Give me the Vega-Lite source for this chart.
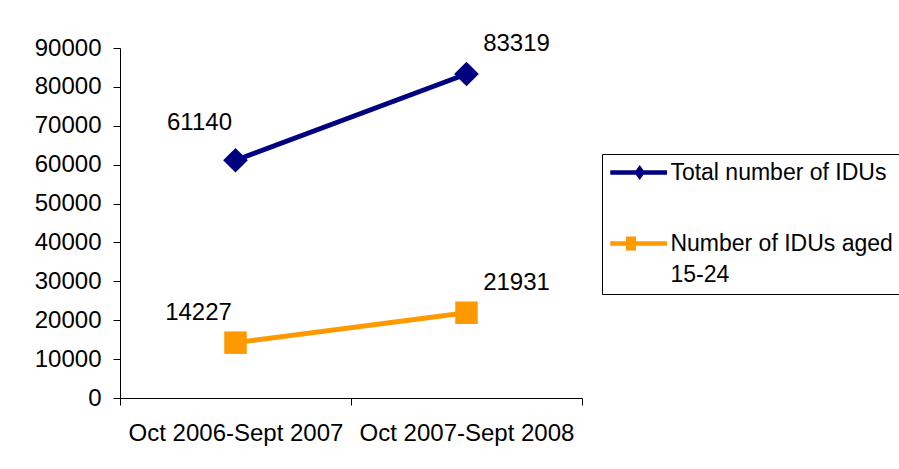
{
  "$schema": "https://vega.github.io/schema/vega-lite/v6.json",
  "width": 462,
  "height": 350,
  "autosize": {"type": "none"},
  "padding": {"left": 120, "top": 48, "right": 317, "bottom": 71},
  "background": "white",
  "config": {"view": {"stroke": null}, "font": "Liberation Sans"},
  "data": {"values": [
    {"period": "Oct 2006-Sept 2007", "series": "Total number of IDUs", "value": 61140},
    {"period": "Oct 2007-Sept 2008", "series": "Total number of IDUs", "value": 83319},
    {"period": "Oct 2006-Sept 2007", "series": "Number of IDUs aged 15-24", "value": 14227},
    {"period": "Oct 2007-Sept 2008", "series": "Number of IDUs aged 15-24", "value": 21931}
  ]},
  "encoding": {
    "x": {
      "field": "period", "type": "nominal", "sort": null,
      "scale": {"type": "band", "paddingInner": 0, "paddingOuter": 0},
      "axis": {"title": null, "labelAngle": 0, "tickBand": "extent", "domainColor": "black", "tickColor": "black", "tickSize": 7, "labelFontSize": 24, "labelPadding": 16, "labelColor": "black", "grid": false, "labelFont": "Liberation Sans", "labelLimit": 400, "labelOverlap": false}
    },
    "y": {
      "field": "value", "type": "quantitative",
      "scale": {"domain": [0, 90000], "nice": false},
      "axis": {"title": null, "values": [0, 10000, 20000, 30000, 40000, 50000, 60000, 70000, 80000, 90000], "format": "d", "grid": false, "tickSize": 7, "labelPadding": 12, "domainColor": "black", "tickColor": "black", "labelFontSize": 24, "labelColor": "black", "labelFont": "Liberation Sans"}
    }
  },
  "layer": [
    {
      "mark": {"type": "line", "strokeWidth": 5},
      "encoding": {
        "color": {
          "field": "series", "type": "nominal",
          "scale": {"domain": ["Total number of IDUs", "Number of IDUs aged 15-24"], "range": ["#000080", "#FF9900"]},
          "legend": {
            "title": null, "orient": "none", "legendX": 482, "legendY": 106,
            "padding": 7, "strokeColor": "black", "fillColor": "white",
            "symbolSize": 225, "symbolStrokeWidth": 0, "labelFontSize": 23, "labelColor": "black", "labelFont": "Liberation Sans",
            "labelLimit": 500, "labelOffset": 38.4, "rowPadding": 47,
            "labelExpr": "datum.label == 'Number of IDUs aged 15-24' ? ['Number of IDUs aged', '15-24'] : datum.label",
            "encode": {
              "symbols": {"update": {
                "shape": {"signal": "datum.value == 'Total number of IDUs' ? 'M-1.36,-0.3H6.2V0.3H-1.36Z M1.84,0L2.56,-1L3.28,0L2.56,1Z' : 'M-1.36,-0.3H6.2V0.3H-1.36Z M0.733,-0.933H2.067V0.933H0.733Z'"},
                "fill": {"signal": "datum.value == 'Total number of IDUs' ? '#000080' : '#FF9900'"},
                "strokeWidth": {"value": 0},
                "opacity": {"value": 1}
              }},
              "labels": {"update": {
                "lineHeight": {"value": 31}
              }}
            }
          }
        }
      }
    },
    {
      "transform": [{"filter": "datum.series == 'Total number of IDUs'"}],
      "mark": {"type": "point", "filled": true, "opacity": 1, "shape": "diamond", "size": 610},
      "encoding": {"color": {"field": "series", "type": "nominal"}}
    },
    {
      "transform": [{"filter": "datum.series != 'Total number of IDUs'"}],
      "mark": {"type": "point", "filled": true, "opacity": 1, "shape": "square", "size": 506},
      "encoding": {"color": {"field": "series", "type": "nominal"}}
    },
    {
      "transform": [{"filter": "datum.period == 'Oct 2007-Sept 2008'"}],
      "mark": {"type": "text", "dx": 50, "dy": -30, "fontSize": 24, "color": "black", "font": "Liberation Sans"},
      "encoding": {"text": {"field": "value", "type": "quantitative", "format": "d"}}
    },
    {
      "transform": [{"filter": "datum.period == 'Oct 2006-Sept 2007' && datum.series == 'Total number of IDUs'"}],
      "mark": {"type": "text", "dx": -36, "dy": -37, "fontSize": 24, "color": "black", "font": "Liberation Sans"},
      "encoding": {"text": {"field": "value", "type": "quantitative", "format": "d"}}
    },
    {
      "transform": [{"filter": "datum.period == 'Oct 2006-Sept 2007' && datum.series != 'Total number of IDUs'"}],
      "mark": {"type": "text", "dx": -37, "dy": -30, "fontSize": 24, "color": "black", "font": "Liberation Sans"},
      "encoding": {"text": {"field": "value", "type": "quantitative", "format": "d"}}
    }
  ]
}
